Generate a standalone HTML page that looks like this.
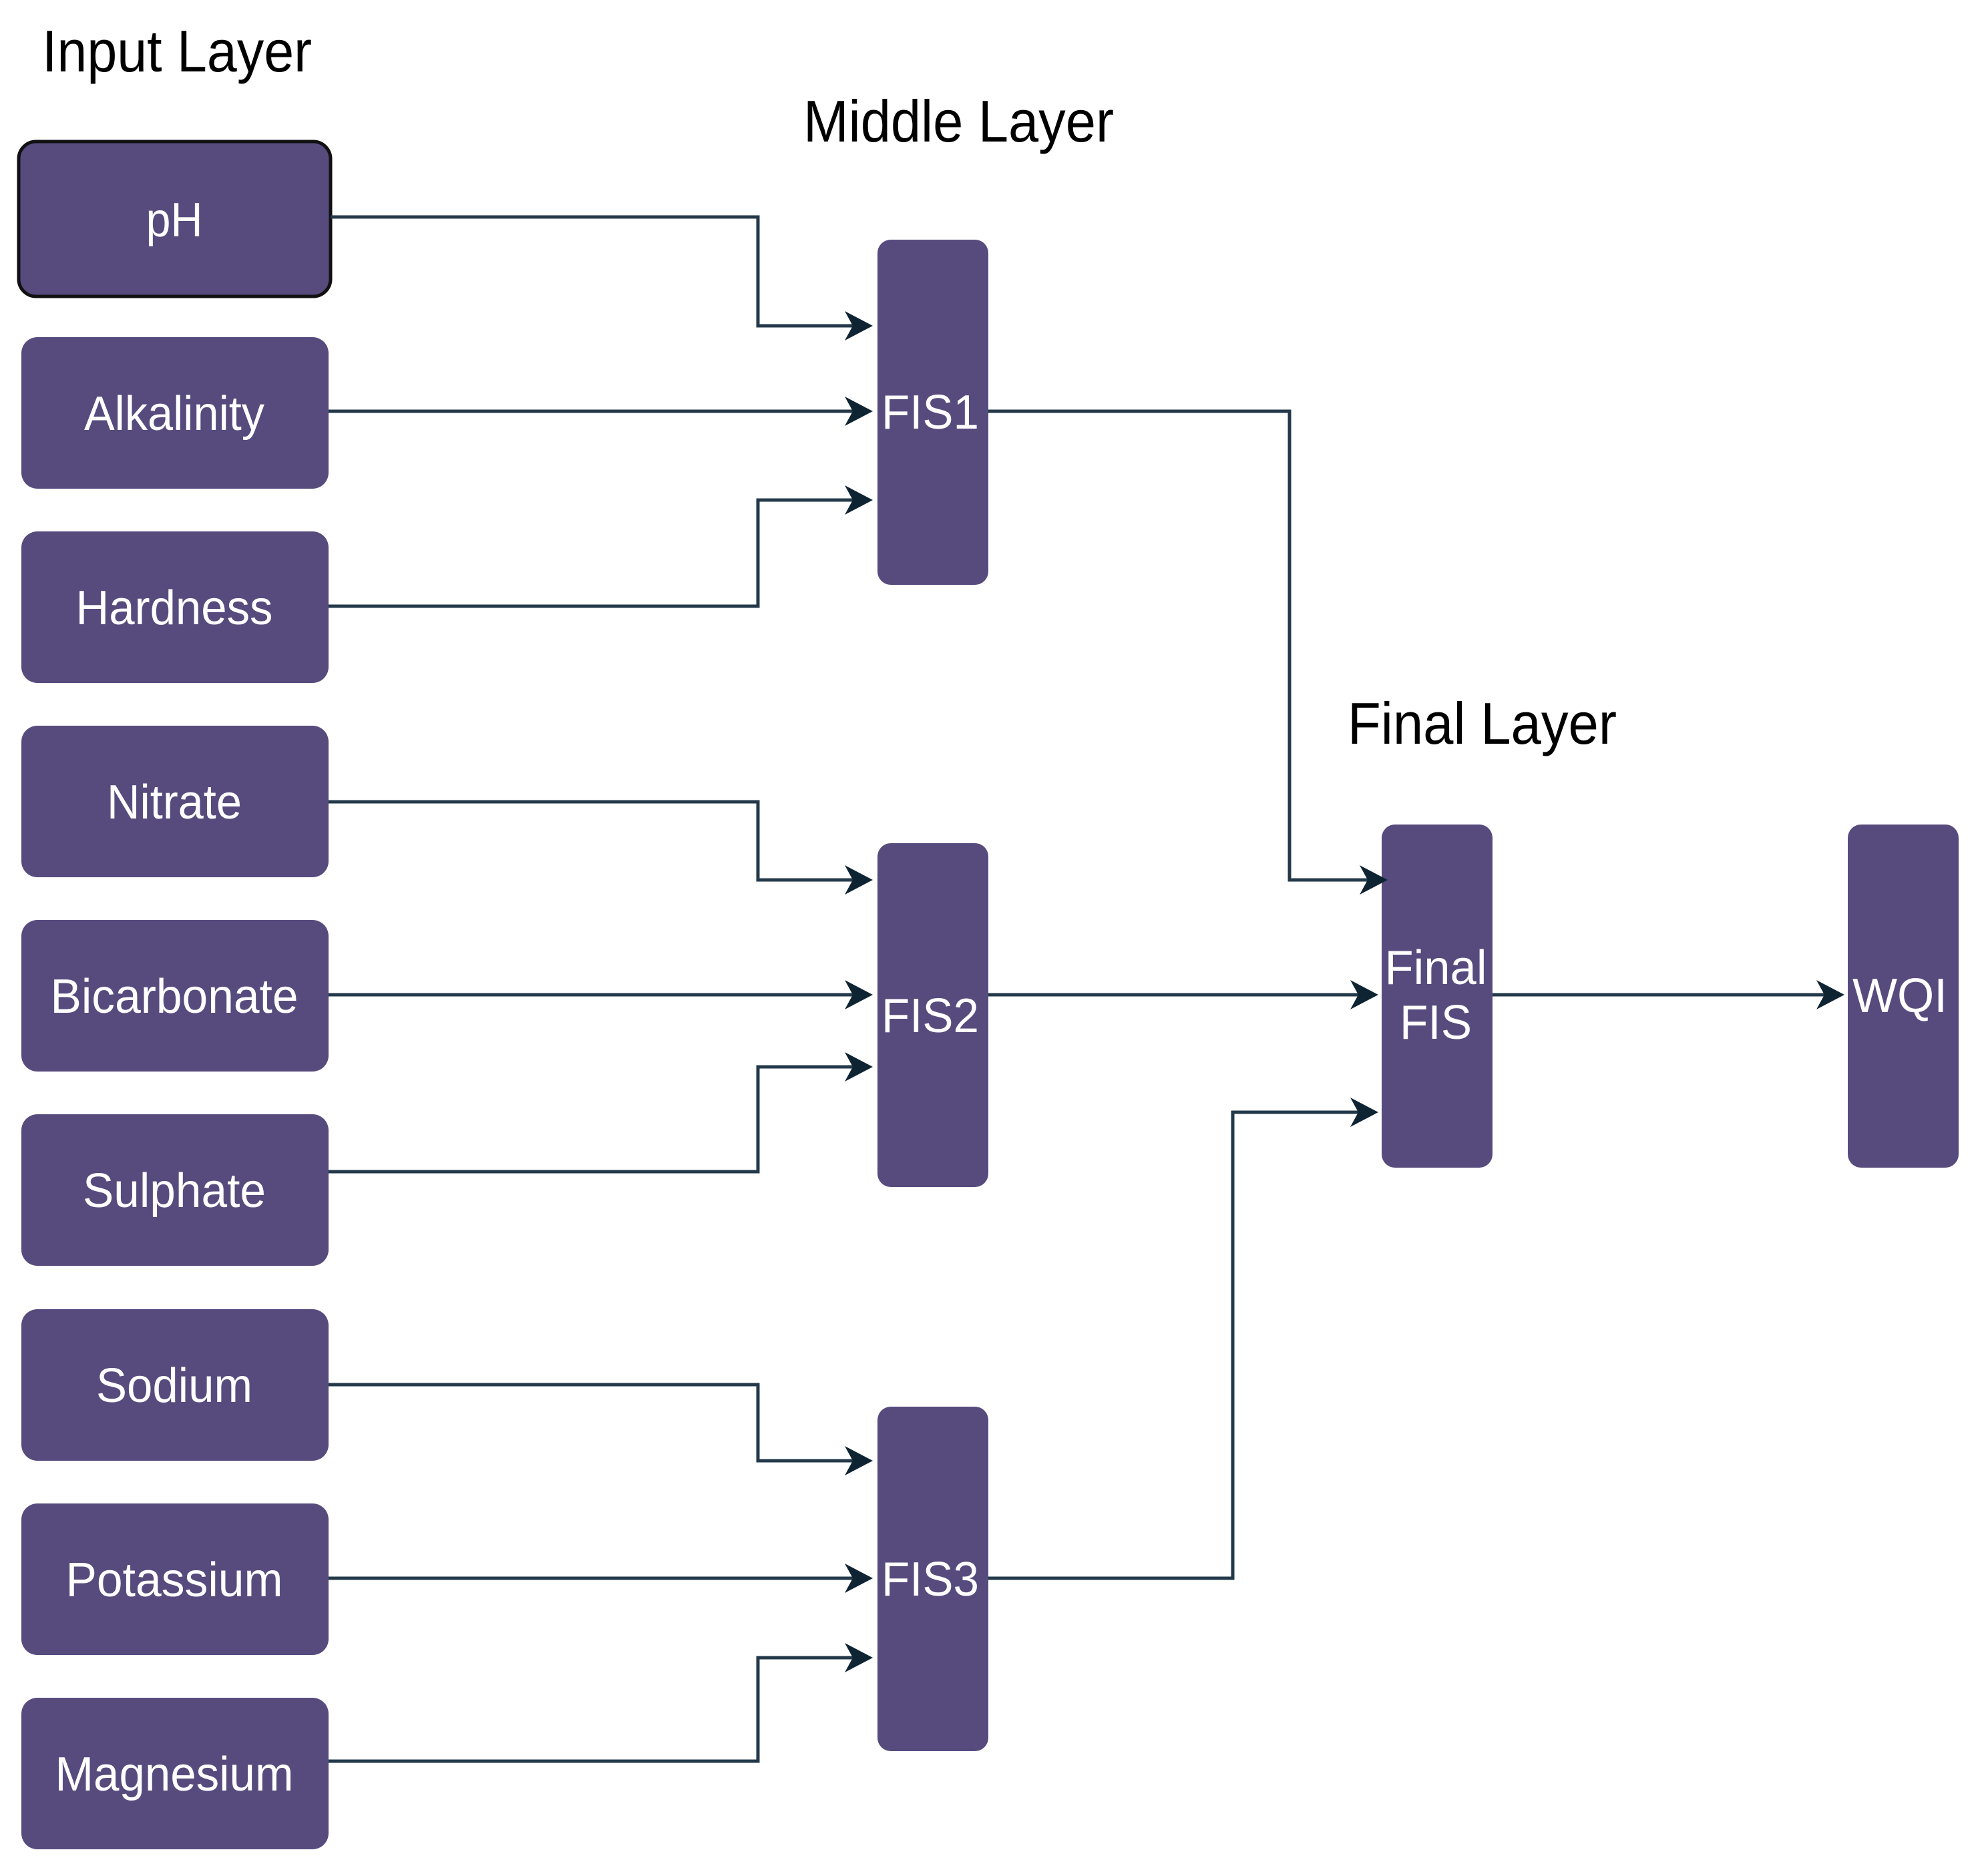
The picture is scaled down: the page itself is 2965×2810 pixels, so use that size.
<!DOCTYPE html>
<html><head><meta charset="utf-8"><style>html,body{margin:0;padding:0;background:#fff}svg{display:block}</style></head>
<body>
<svg width="2965" height="2810" viewBox="0 0 2965 2810" xmlns="http://www.w3.org/2000/svg" font-family="Liberation Sans, Arial, sans-serif">
<defs>
<marker id="a" markerWidth="10" markerHeight="10" refX="8" refY="5" orient="auto" markerUnits="userSpaceOnUse" viewBox="0 0 10 10" style="overflow:visible">
</marker>
</defs>
<g fill="#000" font-size="88">
<text x="63" y="107" textLength="404" lengthAdjust="spacingAndGlyphs">Input Layer</text>
<text x="1203" y="212" textLength="465" lengthAdjust="spacingAndGlyphs">Middle Layer</text>
<text x="2018" y="1114" textLength="403" lengthAdjust="spacingAndGlyphs">Final Layer</text>
</g>
<g fill="#574b7e">
<rect x="28" y="212" width="467" height="232" rx="26" stroke="#111" stroke-width="5"/>
<rect x="32" y="505" width="460" height="227" rx="24"/>
<rect x="32" y="796" width="460" height="227" rx="24"/>
<rect x="32" y="1087" width="460" height="227" rx="24"/>
<rect x="32" y="1378" width="460" height="227" rx="24"/>
<rect x="32" y="1669" width="460" height="227" rx="24"/>
<rect x="32" y="1961" width="460" height="227" rx="24"/>
<rect x="32" y="2252" width="460" height="227" rx="24"/>
<rect x="32" y="2543" width="460" height="227" rx="24"/>
<rect x="1314" y="359" width="166" height="517" rx="20"/>
<rect x="1314" y="1263" width="166" height="515" rx="20"/>
<rect x="1314" y="2107" width="166" height="516" rx="20"/>
<rect x="2069" y="1235" width="166" height="514" rx="20"/>
<rect x="2767" y="1235" width="166" height="514" rx="20"/>
</g>
<g fill="#fff" font-size="72" text-anchor="middle">
<text x="261" y="354" textLength="85" lengthAdjust="spacingAndGlyphs">pH</text>
<text x="261" y="644" textLength="270" lengthAdjust="spacingAndGlyphs">Alkalinity</text>
<text x="261" y="935" textLength="295" lengthAdjust="spacingAndGlyphs">Hardness</text>
<text x="261" y="1226" textLength="202" lengthAdjust="spacingAndGlyphs">Nitrate</text>
<text x="261" y="1517" textLength="371" lengthAdjust="spacingAndGlyphs">Bicarbonate</text>
<text x="261" y="1808" textLength="274" lengthAdjust="spacingAndGlyphs">Sulphate</text>
<text x="261" y="2100" textLength="234" lengthAdjust="spacingAndGlyphs">Sodium</text>
<text x="261" y="2391" textLength="325" lengthAdjust="spacingAndGlyphs">Potassium</text>
<text x="261" y="2682" textLength="357" lengthAdjust="spacingAndGlyphs">Magnesium</text>
<text x="1393" y="642" textLength="146" lengthAdjust="spacingAndGlyphs">FIS1</text>
<text x="1393" y="1546" textLength="146" lengthAdjust="spacingAndGlyphs">FIS2</text>
<text x="1393" y="2390" textLength="146" lengthAdjust="spacingAndGlyphs">FIS3</text>
<text x="2150" y="1474" textLength="153" lengthAdjust="spacingAndGlyphs">Final</text>
<text x="2150" y="1556" textLength="108" lengthAdjust="spacingAndGlyphs">FIS</text>
<text x="2845" y="1516" textLength="142" lengthAdjust="spacingAndGlyphs">WQI</text>
</g>
<g fill="none" stroke="#23394a" stroke-width="5">
<polyline points="495,325 1135,325 1135,488 1290,488"/>
<polyline points="492,616 1290,616"/>
<polyline points="492,908 1135,908 1135,749 1290,749"/>
<polyline points="492,1201 1135,1201 1135,1318 1290,1318"/>
<polyline points="492,1490 1290,1490"/>
<polyline points="492,1755 1135,1755 1135,1598 1290,1598"/>
<polyline points="492,2074 1135,2074 1135,2188 1290,2188"/>
<polyline points="492,2364 1290,2364"/>
<polyline points="492,2638 1135,2638 1135,2483 1290,2483"/>
<polyline points="1480,616 1931,616 1931,1318 2050,1318"/>
<polyline points="1480,1490 2044,1490"/>
<polyline points="1480,2364 1846,2364 1846,1666 2044,1666"/>
<polyline points="2235,1490 2740,1490"/>
</g>
<g fill="#0f2433">
<path d="M1307,488 l-42,-22 l12,22 l-12,22 z"/>
<path d="M1307,616 l-42,-22 l12,22 l-12,22 z"/>
<path d="M1307,749 l-42,-22 l12,22 l-12,22 z"/>
<path d="M1307,1318 l-42,-22 l12,22 l-12,22 z"/>
<path d="M1307,1490 l-42,-22 l12,22 l-12,22 z"/>
<path d="M1307,1598 l-42,-22 l12,22 l-12,22 z"/>
<path d="M1307,2188 l-42,-22 l12,22 l-12,22 z"/>
<path d="M1307,2364 l-42,-22 l12,22 l-12,22 z"/>
<path d="M1307,2483 l-42,-22 l12,22 l-12,22 z"/>
<path d="M2078,1318 l-42,-22 l12,22 l-12,22 z"/>
<path d="M2064,1490 l-42,-22 l12,22 l-12,22 z"/>
<path d="M2064,1666 l-42,-22 l12,22 l-12,22 z"/>
<path d="M2762,1490 l-42,-22 l12,22 l-12,22 z"/>
</g>
</svg>
</body></html>
